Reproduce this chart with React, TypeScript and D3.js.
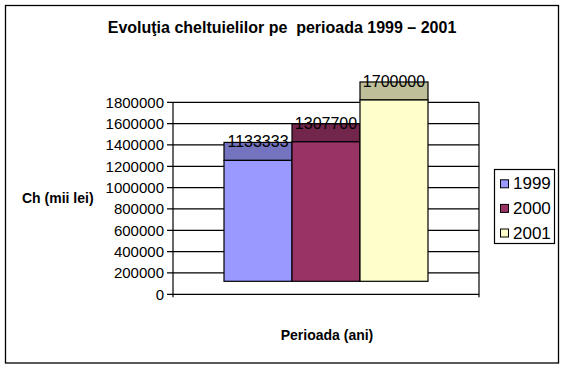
import * as d3 from "d3";

const years = ["1999", "2000", "2001"];
const values = [1133333, 1307700, 1700000];
const valueLabels = ["1133333", "1307700", "1700000"];
const frontColors = ["#9999FF", "#993366", "#FFFFCC"];
const topColors = ["#7373BF", "#73264C", "#BFBF99"];
const yTicks = [0, 200000, 400000, 600000, 800000, 1000000, 1200000, 1400000, 1600000, 1800000];

const FONT = "'Liberation Sans', Arial, sans-serif";

export default function App() {
  const width = 564;
  const height = 368;
  const plot = { left: 173, right: 479, top: 102.3, bottom: 294.3 };
  // 3D look: front face drops below the back wall, top face is visible above
  const frontDrop = 13;
  const depth = 18;

  const y = d3.scaleLinear().domain([0, 1800000]).range([plot.bottom, plot.top]);
  const group = d3.scaleBand().domain(["Perioada"]).range([plot.left, plot.right]).paddingInner(0).paddingOuter(0.25);
  const x = d3
    .scaleBand()
    .domain(years)
    .range([group("Perioada") ?? 0, (group("Perioada") ?? 0) + group.bandwidth()])
    .padding(0);

  return (
    <svg
      width={width}
      height={height}
      style={{ position: "fixed", left: 0, top: 0, background: "#fff" }}
      fontFamily={FONT}
    >
      <rect x={5.5} y={5.5} width={553} height={357.5} fill="#fff" stroke="#000" strokeWidth={1.3} />

      <text x={282} y={33} textAnchor="middle" fontSize={16} fontWeight="bold" style={{ whiteSpace: "pre" }}>
        {"Evoluţia cheltuielilor pe  perioada 1999 – 2001"}
      </text>

      {/* gridlines + ticks */}
      {yTicks.map((t) => (
        <g key={t}>
          <line x1={plot.left - 6} x2={plot.right} y1={y(t)} y2={y(t)} stroke="#000" strokeWidth={1.2} />
          <text x={164} y={y(t)} dy="0.36em" textAnchor="end" fontSize={15}>
            {t}
          </text>
        </g>
      ))}
      <line x1={plot.left} x2={plot.left} y1={plot.top} y2={plot.bottom + 3} stroke="#000" strokeWidth={1.2} />
      <line x1={plot.right} x2={plot.right} y1={plot.top} y2={plot.bottom + 3} stroke="#000" strokeWidth={1.2} />

      {/* bars */}
      {years.map((yr, i) => {
        const x0 = x(yr) ?? 0;
        const bw = x.bandwidth();
        const frontTop = y(values[i]) - frontDrop;
        const frontBottom = y(0) - frontDrop;
        return (
          <g key={yr}>
            <rect
              x={x0}
              y={frontTop - depth}
              width={bw}
              height={depth}
              fill={topColors[i]}
              stroke="#000"
              strokeWidth={1.2}
            />
            <rect
              x={x0}
              y={frontTop}
              width={bw}
              height={frontBottom - frontTop}
              fill={frontColors[i]}
              stroke="#000"
              strokeWidth={1.2}
            />
          </g>
        );
      })}
      {years.map((yr, i) => (
        <text
          key={yr}
          x={(x(yr) ?? 0) + x.bandwidth() / 2}
          y={y(values[i]) - frontDrop - depth + 5}
          textAnchor="middle"
          fontSize={16}
        >
          {valueLabels[i]}
        </text>
      ))}

      <text x={22} y={203} fontSize={14} fontWeight="bold">
        Ch (mii lei)
      </text>
      <text x={327} y={340} textAnchor="middle" fontSize={14} fontWeight="bold">
        Perioada (ani)
      </text>

      {/* legend */}
      <rect x={494.5} y={169.5} width={60} height={74} fill="#fff" stroke="#000" strokeWidth={1.2} />
      {years.map((yr, i) => {
        const base = 189.3 + i * 24.6;
        return (
          <g key={yr}>
            <rect x={500.5} y={base - 9.5} width={8} height={8} fill={frontColors[i]} stroke="#000" strokeWidth={1} />
            <text x={513} y={base} fontSize={17}>
              {yr}
            </text>
          </g>
        );
      })}
    </svg>
  );
}
